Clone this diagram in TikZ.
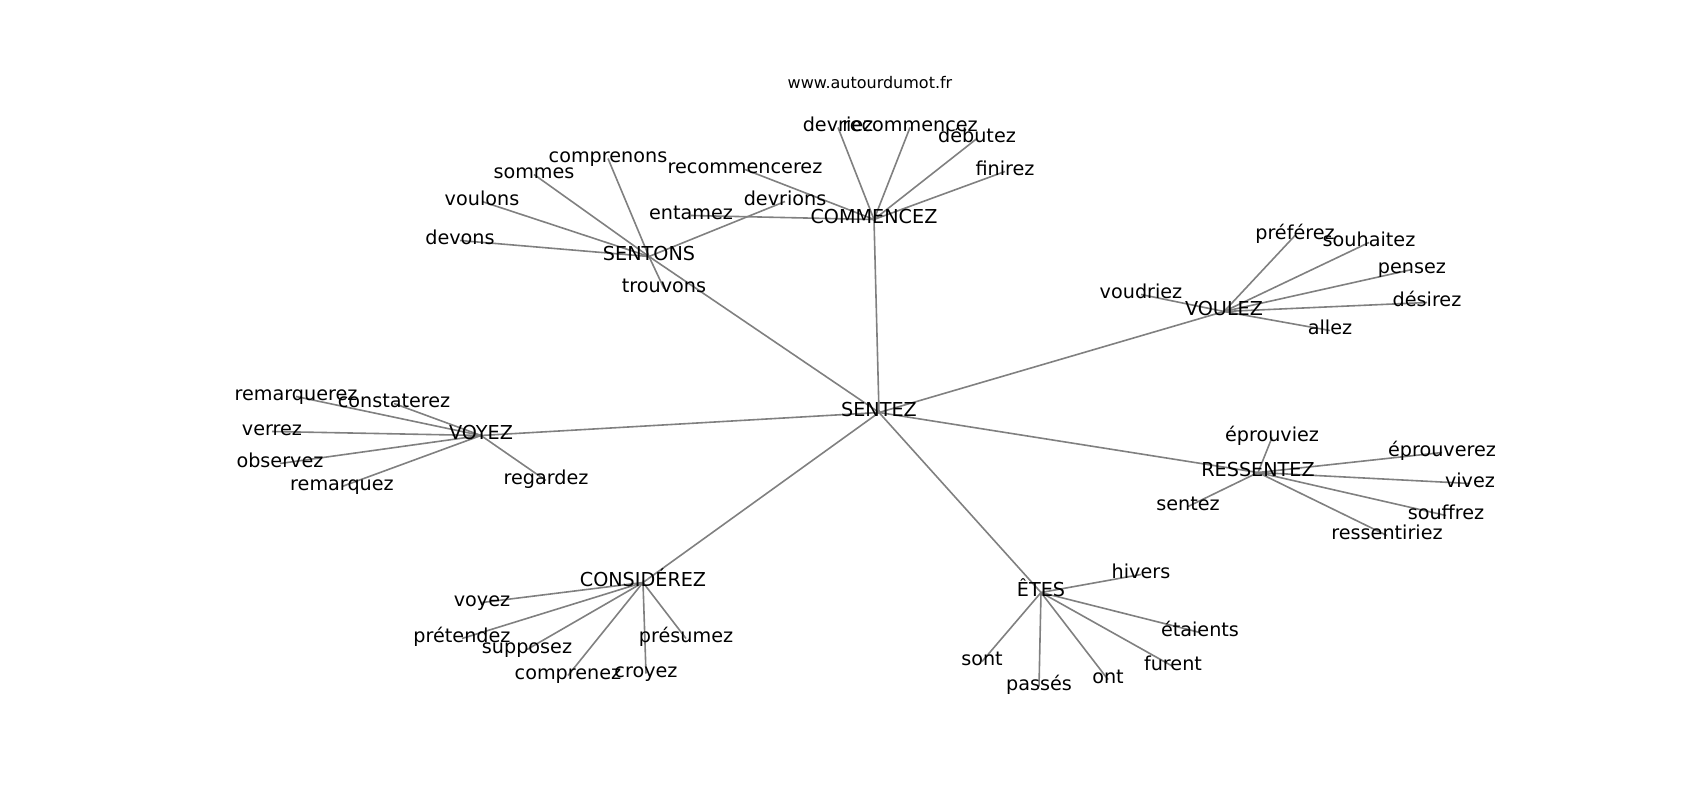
\documentclass[tikz,border=0pt]{standalone}
\usepackage{fontspec}
\setmainfont{DejaVu Sans}
\usetikzlibrary{backgrounds}

\begin{document}
\begin{tikzpicture}[x=0.625pt,y=-0.625pt,
    word/.style={inner sep=0pt,text height=0.76em,text depth=0.24em,font=\fontsize{12}{14}\selectfont},
    edgeline/.style={draw=gray,line width=1pt}]
    \useasboundingbox (0,-3.5) rectangle (1700,796.5);
    \node[inner sep=0pt,text height=0.76em,text depth=0.24em,font=\fontsize{10}{12}\selectfont] (site) at (870,81) {www.autourdumot.fr};

    \node[word] (SENTEZ) at (879,409) {SENTEZ};

    \node[word] (SENTONS) at (649,253) {SENTONS};
    \node[word] (comprenons) at (608,155) {comprenons};
    \node[word] (sommes) at (534,171) {sommes};
    \node[word] (voulons) at (482,198) {voulons};
    \node[word] (devons) at (460,237) {devons};
    \node[word] (trouvons) at (664,285) {trouvons};
    \node[word] (devrions) at (785,198) {devrions};

    \node[word] (COMMENCEZ) at (874,216) {COMMENCEZ};
    \node[word] (devriez) at (838,124) {devriez};
    \node[word] (recommencez) at (910,124) {recommencez};
    \node[word] (debutez) at (977,135) {débutez};
    \node[word] (finirez) at (1005,168) {finirez};
    \node[word] (recommencerez) at (745,166) {recommencerez};
    \node[word] (entamez) at (691,212) {entamez};

    \node[word] (VOULEZ) at (1224,308) {VOULEZ};
    \node[word] (preferez) at (1295,232) {préférez};
    \node[word] (souhaitez) at (1369,239) {souhaitez};
    \node[word] (pensez) at (1412,266) {pensez};
    \node[word] (desirez) at (1427,299) {désirez};
    \node[word] (allez) at (1330,327) {allez};
    \node[word] (voudriez) at (1141,291) {voudriez};

    \node[word] (VOYEZ) at (481,432) {VOYEZ};
    \node[word] (remarquerez) at (296,393) {remarquerez};
    \node[word] (constaterez) at (394,400) {constaterez};
    \node[word] (verrez) at (272,428) {verrez};
    \node[word] (observez) at (280,460) {observez};
    \node[word] (remarquez) at (342,483) {remarquez};
    \node[word] (regardez) at (546,477) {regardez};

    \node[word] (RESSENTEZ) at (1258,469) {RESSENTEZ};
    \node[word] (eprouviez) at (1272,434) {éprouviez};
    \node[word] (eprouverez) at (1442,449) {éprouverez};
    \node[word] (vivez) at (1470,480) {vivez};
    \node[word] (souffrez) at (1446,512) {souffrez};
    \node[word] (ressentiriez) at (1387,532) {ressentiriez};
    \node[word] (sentez) at (1188,503) {sentez};

    \node[word] (ETES) at (1041,589) {ÊTES};
    \node[word] (hivers) at (1141,571) {hivers};
    \node[word] (etaients) at (1200,629) {étaients};
    \node[word] (furent) at (1173,663) {furent};
    \node[word] (ont) at (1108,676) {ont};
    \node[word] (passes) at (1039,683) {passés};
    \node[word] (sont) at (982,658) {sont};

    \node[word] (CONSIDEREZ) at (643,579) {CONSIDÉREZ};
    \node[word] (voyez) at (482,599) {voyez};
    \node[word] (pretendez) at (462,635) {prétendez};
    \node[word] (supposez) at (527,646) {supposez};
    \node[word] (comprenez) at (568,672) {comprenez};
    \node[word] (croyez) at (646,670) {croyez};
    \node[word] (presumez) at (686,635) {présumez};

    \begin{pgfonlayer}{background}
    \foreach \h in {SENTONS,COMMENCEZ,VOULEZ,VOYEZ,RESSENTEZ,ETES,CONSIDEREZ}
        \draw[edgeline] (SENTEZ.center) to (\h.center);
    \foreach \w in {comprenons,sommes,voulons,devons,trouvons,devrions}
        \draw[edgeline] (SENTONS.center) to (\w.center);
    \foreach \w in {devriez,recommencez,debutez,finirez,recommencerez,entamez}
        \draw[edgeline] (COMMENCEZ.center) to (\w.center);
    \foreach \w in {preferez,souhaitez,pensez,desirez,allez,voudriez}
        \draw[edgeline] (VOULEZ.center) to (\w.center);
    \foreach \w in {remarquerez,constaterez,verrez,observez,remarquez,regardez}
        \draw[edgeline] (VOYEZ.center) to (\w.center);
    \foreach \w in {eprouviez,eprouverez,vivez,souffrez,ressentiriez,sentez}
        \draw[edgeline] (RESSENTEZ.center) to (\w.center);
    \foreach \w in {hivers,etaients,furent,ont,passes,sont}
        \draw[edgeline] (ETES.center) to (\w.center);
    \foreach \w in {voyez,pretendez,supposez,comprenez,croyez,presumez}
        \draw[edgeline] (CONSIDEREZ.center) to (\w.center);
    \end{pgfonlayer}
\end{tikzpicture}
\end{document}
